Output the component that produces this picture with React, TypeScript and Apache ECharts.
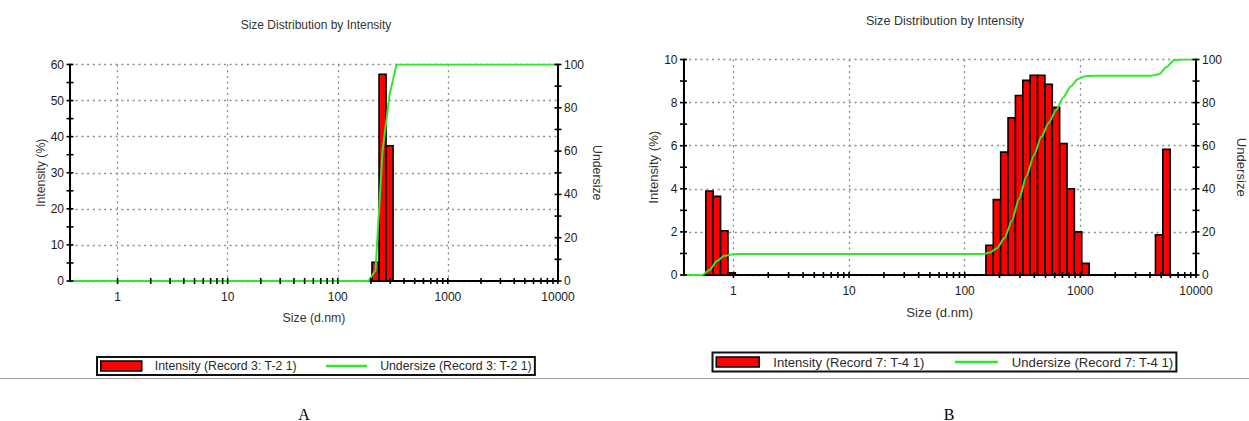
import React, { useEffect, useRef } from 'react';
import * as echarts from 'echarts';

const FONT = "'Liberation Sans', Arial, sans-serif";
const TITLE = 'Size Distribution by Intensity';
const X_NAME = 'Size (d.nm)';
const Y_LEFT_NAME = 'Intensity (%)';
const Y_RIGHT_NAME = 'Undersize';
const X_MIN = 0.37;
const X_MAX = 10000;
const BIN_RATIO = 1.1582; // ratio between neighbouring size classes
const RED = '#ff0000';
const GREEN = '#2ee82e';

// axis tick values
const DECADES = [1, 10, 100, 1000];
const MANTISSAS = [1, 2, 3, 4, 5, 6, 7, 8, 9];
const X_TICKS = DECADES.flatMap((d) => MANTISSAS.map((m) => m * d)).concat([10000]);
const RIGHT_TICKS = [0, 10, 20, 30, 40, 50, 60, 70, 80, 90, 100];
const A_LEFT_TICKS = [0, 5, 10, 15, 20, 25, 30, 35, 40, 45, 50, 55, 60];
const B_LEFT_TICKS = [0, 1, 2, 3, 4, 5, 6, 7, 8, 9, 10];

// Panel A data
const A_INTENSITY_NAME = 'Intensity (Record 3: T-2 1)';
const A_UNDERSIZE_NAME = 'Undersize (Record 3: T-2 1)';
const A_BINS = [220.2, 255.0, 295.3];
const A_INTENSITY = [5.2, 57.3, 37.5];
const A_UNDER_SIZE = [X_MIN, 190.1, 220.2, 255.0, 295.3, 342.0, 10000];
const A_UNDER_VAL = [0, 0, 5, 60, 86, 100, 100];

// Panel B data
const B_INTENSITY_NAME = 'Intensity (Record 7: T-4 1)';
const B_UNDERSIZE_NAME = 'Undersize (Record 7: T-4 1)';
const B_BINS = [0.6213, 0.7195, 0.8332, 0.9649, 164.2, 190.1, 220.2, 255.0, 295.3, 342.0, 396.1, 458.7, 531.2, 615.1, 712.4, 825.0, 955.4, 1106, 4801, 5560];
const B_INTENSITY = [3.9, 3.65, 2.05, 0.1, 1.38, 3.5, 5.7, 7.3, 8.33, 9.03, 9.27, 9.27, 8.85, 7.78, 6.1, 4.0, 2.0, 0.54, 1.87, 5.83];
const B_UNDER_SIZE = [X_MIN, 0.5365, 0.6213, 0.7195, 0.8332, 0.9649, 1.117, 141.8, 164.2, 190.1, 220.2, 255.0, 295.3, 342.0, 396.1, 458.7, 531.2, 615.1, 712.4, 825.0, 955.4, 1106, 1281, 4145, 4801, 5560, 6439, 7456, 10000];
const B_UNDER_VAL = [0, 0, 2.3, 6.5, 8.9, 9.5, 9.7, 9.7, 10.4, 12.4, 17.0, 25.0, 35.5, 45.8, 55.5, 64.0, 70.5, 76.5, 82.5, 87.5, 91.0, 92.2, 92.5, 92.5, 93.2, 96.5, 99.6, 100, 100];

const DOT = { color: '#8c8c8c', width: 1.3, type: [2, 3.7] as any };

type Panel = {
  grid: { left: number; top: number; width: number; height: number };
  yMax: number;
  yInterval: number;
  leftTicks: number[];
  bins: number[];
  intensity: number[];
  underSize: number[];
  underVal: number[];
  intensityName: string;
  undersizeName: string;
  smooth: number;
  leftNameGap: number;
  rightNameGap: number;
  xNameGap: number;
  titleX: number;
  titleY: number;
  titleFs: number;
  legend: { left: number; top: number; itemWidth: number; itemGap: number; textGap: number; fs: number };
  letter: { text: string; x: number; y: number };
};

const PANELS: Panel[] = [
  {
    grid: { left: 70, top: 64.5, width: 488, height: 216.5 },
    yMax: 60,
    yInterval: 10,
    leftTicks: A_LEFT_TICKS,
    bins: A_BINS,
    intensity: A_INTENSITY,
    underSize: A_UNDER_SIZE,
    underVal: A_UNDER_VAL,
    intensityName: A_INTENSITY_NAME,
    undersizeName: A_UNDERSIZE_NAME,
    smooth: 0,
    leftNameGap: 23,
    rightNameGap: 33,
    xNameGap: 31,
    titleX: 316,
    titleY: 18.5,
    titleFs: 12,
    legend: { left: 97, top: 357, itemWidth: 41, itemGap: 28, textGap: 13, fs: 12.3 },
    letter: { text: 'A', x: 304, y: 414 },
  },
  {
    grid: { left: 683.5, top: 59.5, width: 514.5, height: 215.5 },
    yMax: 10,
    yInterval: 2,
    leftTicks: B_LEFT_TICKS,
    bins: B_BINS,
    intensity: B_INTENSITY,
    underSize: B_UNDER_SIZE,
    underVal: B_UNDER_VAL,
    intensityName: B_INTENSITY_NAME,
    undersizeName: B_UNDERSIZE_NAME,
    smooth: 0.25,
    leftNameGap: 24,
    rightNameGap: 39,
    xNameGap: 31,
    titleX: 945,
    titleY: 14,
    titleFs: 12.6,
    legend: { left: 712.5, top: 352.5, itemWidth: 43, itemGap: 29, textGap: 14, fs: 13.1 },
    letter: { text: 'B', x: 949, y: 414 },
  },
];

function tickSeries(xIdx: number, yIdx: number, data: number[][], dir: 'x' | 'y') {
  return {
    type: 'custom',
    xAxisIndex: xIdx,
    yAxisIndex: yIdx,
    silent: true,
    z: 6,
    data,
    renderItem: (_params: any, api: any) => {
      const p = api.coord([api.value(0), api.value(1)]);
      const shape =
        dir === 'x'
          ? { x1: p[0], y1: p[1] - 3, x2: p[0], y2: p[1] + 3 }
          : { x1: p[0] - 3.5, y1: p[1], x2: p[0] + 3.5, y2: p[1] };
      return { type: 'line', shape, style: { stroke: '#000', lineWidth: 1.6 } };
    },
  };
}

function buildOption() {
  const half = Math.sqrt(BIN_RATIO);
  const axisNameStyle = (fs: number) => ({ fontSize: fs, color: '#333', fontFamily: FONT });
  const labelStyle = { fontSize: 12, color: '#1a1a1a', fontFamily: FONT };

  const series: any[] = [];
  PANELS.forEach((p, i) => {
    const yl = 2 * i;
    const yr = 2 * i + 1;
    series.push({
      type: 'custom',
      name: p.intensityName,
      xAxisIndex: i,
      yAxisIndex: yl,
      z: 2,
      itemStyle: { color: RED },
      data: p.bins.map((b, k) => [b, p.intensity[k]]),
      renderItem: (_params: any, api: any) => {
        const c = api.value(0);
        const v = api.value(1);
        const p0 = api.coord([c / half, v]);
        const p1 = api.coord([c * half, 0]);
        return {
          type: 'rect',
          shape: { x: p0[0], y: p0[1], width: p1[0] - p0[0], height: p1[1] - p0[1] },
          style: { fill: RED, stroke: '#000', lineWidth: 1.6 },
        };
      },
    });
    series.push({
      type: 'line',
      name: p.undersizeName,
      xAxisIndex: i,
      yAxisIndex: yr,
      z: 4,
      symbol: 'none',
      showSymbol: false,
      smooth: p.smooth,
      smoothMonotone: 'x',
      lineStyle: { color: GREEN, width: 2 },
      itemStyle: { color: GREEN },
      data: p.underSize.map((s, k) => [s, p.underVal[k]]),
    });
    series.push(tickSeries(i, yl, X_TICKS.map((t) => [t, 0]), 'x'));
    series.push(tickSeries(i, yl, p.leftTicks.map((v) => [X_MIN, v]), 'y'));
    series.push(tickSeries(i, yr, RIGHT_TICKS.map((v) => [X_MAX, v]), 'y'));
  });

  return {
    animation: false,
    backgroundColor: '#fff',
    title: PANELS.map((p) => ({
      text: TITLE,
      left: p.titleX,
      top: p.titleY,
      textAlign: 'center',
      padding: 0,
      textStyle: { fontSize: p.titleFs, fontWeight: 'normal', color: '#333', fontFamily: FONT },
    })),
    legend: PANELS.map((p) => ({
      left: p.legend.left,
      top: p.legend.top,
      orient: 'horizontal',
      selectedMode: false,
      itemWidth: p.legend.itemWidth,
      itemHeight: 10,
      itemGap: p.legend.itemGap,
      borderColor: '#111',
      borderWidth: 2,
      padding: [3, 3, 3, 3],
      textStyle: { fontSize: p.legend.fs, color: '#2a2a2a', fontFamily: FONT, padding: [0, 0, 0, p.legend.textGap - 5] },
      data: [
        { name: p.intensityName, icon: 'rect', itemStyle: { color: RED, borderColor: '#000', borderWidth: 1.5 } },
        { name: p.undersizeName, itemStyle: { opacity: 0 }, lineStyle: { color: GREEN, width: 2.5 } },
      ],
    })),
    grid: PANELS.map((p) => ({ ...p.grid })),
    xAxis: PANELS.map((p, i) => ({
      type: 'log',
      logBase: 10,
      gridIndex: i,
      min: X_MIN,
      max: X_MAX,
      name: X_NAME,
      nameLocation: 'middle',
      nameGap: p.xNameGap,
      nameTextStyle: axisNameStyle(p.legend.fs),
      axisLine: { show: true, lineStyle: { color: '#000', width: 2 } },
      axisTick: { show: false },
      axisLabel: {
        ...labelStyle,
        margin: 10,
        showMinLabel: false,
        formatter: (v: number) => (v >= 1 ? String(Math.round(v)) : ''),
      },
      splitLine: { show: true, lineStyle: DOT },
    })),
    yAxis: PANELS.flatMap((p, i) => [
      {
        type: 'value',
        gridIndex: i,
        position: 'left',
        min: 0,
        max: p.yMax,
        interval: p.yInterval,
        name: Y_LEFT_NAME,
        nameLocation: 'middle',
        nameRotate: 90,
        nameGap: p.leftNameGap,
        nameTextStyle: axisNameStyle(p.legend.fs),
        axisLine: { show: true, lineStyle: { color: '#000', width: 2 } },
        axisTick: { show: false },
        axisLabel: { ...labelStyle, margin: 6 },
        splitLine: { show: true, lineStyle: DOT },
      },
      {
        type: 'value',
        gridIndex: i,
        position: 'right',
        min: 0,
        max: 100,
        interval: 20,
        name: Y_RIGHT_NAME,
        nameLocation: 'middle',
        nameRotate: -90,
        nameGap: p.rightNameGap,
        nameTextStyle: axisNameStyle(p.legend.fs),
        axisLine: { show: true, lineStyle: { color: '#000', width: 2 } },
        axisTick: { show: false },
        axisLabel: { ...labelStyle, margin: 6 },
        splitLine: { show: false },
      },
    ]),
    series,
    graphic: [
      {
        type: 'line',
        shape: { x1: 0, y1: 378.5, x2: 1249, y2: 378.5 },
        style: { stroke: '#a0a0a0', lineWidth: 1 },
        z: 0,
      },
      ...PANELS.map((p) => ({
        type: 'text',
        x: p.letter.x,
        y: p.letter.y,
        style: {
          text: p.letter.text,
          fontSize: 16,
          fontFamily: "'Liberation Serif', 'Times New Roman', serif",
          fill: '#000',
          textAlign: 'center',
          textVerticalAlign: 'middle',
        },
      })),
    ],
  };
}

export default function App() {
  const ref = useRef<HTMLDivElement>(null);
  useEffect(() => {
    if (!ref.current) return;
    const chart = echarts.init(ref.current, null, { renderer: 'svg' });
    chart.setOption(buildOption() as any);
    return () => chart.dispose();
  }, []);
  return (
    <div
      ref={ref}
      style={{ position: 'absolute', left: 0, top: 0, width: 1249, height: 421, background: '#fff' }}
    />
  );
}
